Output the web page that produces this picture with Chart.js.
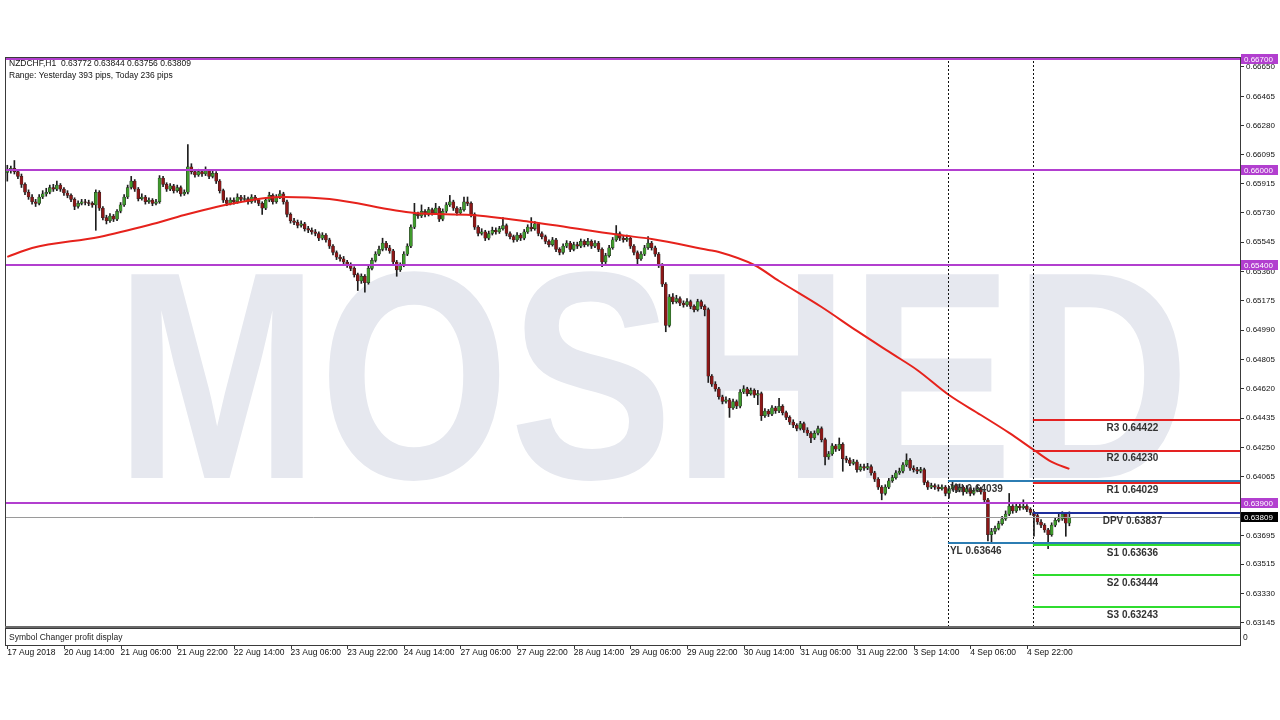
<!DOCTYPE html>
<html>
<head>
<meta charset="utf-8">
<script src="https://cdn.jsdelivr.net/npm/chart.js@4.4.1/dist/chart.umd.min.js"></script>
<style>
  html, body { margin: 0; background: #fff; }
  canvas { display: block; }
</style>
</head>
<body>
<canvas id="chart" width="1280" height="720"></canvas>
<script>
// NZDCHF H1 candles, 17 Aug 22:00 .. 5 Sep 10:00
const opens = [
  0.65985,0.65995,0.66010,0.65990,0.65960,0.65910,0.65860,0.65830,0.65800,0.65790,
  0.65830,0.65850,0.65860,0.65890,0.65880,0.65905,0.65880,0.65855,0.65840,0.65815,
  0.65770,0.65790,0.65800,0.65795,0.65790,0.65780,0.65860,0.65760,0.65700,0.65680,
  0.65710,0.65690,0.65740,0.65780,0.65830,0.65890,0.65930,0.65880,0.65820,0.65830,
  0.65800,0.65810,0.65790,0.65800,0.65950,0.65910,0.65880,0.65900,0.65870,0.65890,
  0.65850,0.65860,0.66020,0.65990,0.65970,0.65990,0.65975,0.65995,0.65960,0.65980,
  0.65930,0.65870,0.65810,0.65790,0.65810,0.65800,0.65830,0.65815,0.65820,0.65800,
  0.65830,0.65810,0.65790,0.65760,0.65810,0.65840,0.65800,0.65830,0.65850,0.65800,
  0.65720,0.65680,0.65670,0.65650,0.65660,0.65630,0.65620,0.65610,0.65600,0.65570,
  0.65590,0.65560,0.65520,0.65480,0.65450,0.65440,0.65420,0.65400,0.65380,0.65340,
  0.65300,0.65330,0.65290,0.65380,0.65430,0.65470,0.65500,0.65540,0.65510,0.65490,
  0.65420,0.65370,0.65400,0.65470,0.65520,0.65640,0.65720,0.65710,0.65740,0.65720,
  0.65750,0.65730,0.65760,0.65690,0.65740,0.65780,0.65800,0.65760,0.65730,0.65750,
  0.65800,0.65790,0.65720,0.65640,0.65600,0.65610,0.65570,0.65600,0.65620,0.65610,
  0.65630,0.65650,0.65600,0.65580,0.65560,0.65590,0.65570,0.65610,0.65640,0.65630,
  0.65660,0.65600,0.65580,0.65550,0.65530,0.65560,0.65500,0.65480,0.65520,0.65540,
  0.65500,0.65530,0.65520,0.65550,0.65530,0.65550,0.65520,0.65540,0.65500,0.65420,
  0.65460,0.65510,0.65560,0.65600,0.65570,0.65560,0.65570,0.65520,0.65480,0.65440,
  0.65470,0.65510,0.65540,0.65510,0.65470,0.65400,0.65280,0.65020,0.65200,0.65170,
  0.65190,0.65160,0.65150,0.65170,0.65140,0.65120,0.65170,0.65140,0.65120,0.64700,
  0.64650,0.64620,0.64570,0.64540,0.64550,0.64500,0.64540,0.64510,0.64600,0.64620,
  0.64590,0.64610,0.64580,0.64590,0.64450,0.64480,0.64460,0.64500,0.64480,0.64510,
  0.64470,0.64440,0.64410,0.64390,0.64370,0.64400,0.64360,0.64340,0.64310,0.64340,
  0.64370,0.64300,0.64190,0.64210,0.64260,0.64240,0.64270,0.64180,0.64170,0.64150,
  0.64160,0.64110,0.64130,0.64120,0.64130,0.64090,0.64050,0.64000,0.63960,0.64000,
  0.64040,0.64060,0.64090,0.64100,0.64140,0.64170,0.64120,0.64110,0.64100,0.64110,
  0.64030,0.64000,0.64010,0.64000,0.63990,0.64000,0.63960,0.63990,0.64010,0.63980,
  0.64000,0.63970,0.63990,0.63960,0.63980,0.63990,0.63970,0.63920,0.63700,0.63720,
  0.63740,0.63770,0.63800,0.63830,0.63880,0.63850,0.63880,0.63870,0.63880,0.63860,
  0.63840,0.63820,0.63780,0.63760,0.63730,0.63700,0.63760,0.63790,0.63800,0.63830,
  0.63772
];
const highs = [
  0.66030,0.66025,0.66060,0.66005,0.65975,0.65920,0.65875,0.65845,0.65815,0.65845,
  0.65870,0.65885,0.65905,0.65910,0.65930,0.65915,0.65890,0.65870,0.65850,0.65825,
  0.65805,0.65815,0.65815,0.65810,0.65800,0.65875,0.65870,0.65770,0.65715,0.65725,
  0.65720,0.65750,0.65795,0.65845,0.65905,0.65960,0.65940,0.65890,0.65850,0.65840,
  0.65825,0.65820,0.65815,0.65965,0.65960,0.65920,0.65915,0.65910,0.65905,0.65900,
  0.65875,0.66160,0.66040,0.66000,0.66005,0.66000,0.66020,0.66005,0.65995,0.65990,
  0.65940,0.65880,0.65825,0.65825,0.65825,0.65850,0.65840,0.65840,0.65830,0.65845,
  0.65840,0.65820,0.65800,0.65825,0.65860,0.65850,0.65845,0.65870,0.65860,0.65810,
  0.65730,0.65695,0.65685,0.65680,0.65670,0.65645,0.65635,0.65625,0.65610,0.65605,
  0.65600,0.65570,0.65530,0.65490,0.65465,0.65455,0.65430,0.65415,0.65390,0.65350,
  0.65345,0.65340,0.65395,0.65445,0.65485,0.65520,0.65570,0.65550,0.65525,0.65500,
  0.65430,0.65415,0.65485,0.65535,0.65655,0.65790,0.65735,0.65780,0.65750,0.65765,
  0.65760,0.65790,0.65770,0.65755,0.65795,0.65840,0.65810,0.65770,0.65765,0.65830,
  0.65830,0.65800,0.65730,0.65650,0.65630,0.65620,0.65615,0.65640,0.65635,0.65645,
  0.65700,0.65660,0.65610,0.65590,0.65605,0.65600,0.65625,0.65655,0.65700,0.65675,
  0.65670,0.65610,0.65590,0.65560,0.65575,0.65570,0.65510,0.65535,0.65555,0.65550,
  0.65545,0.65545,0.65565,0.65560,0.65570,0.65560,0.65555,0.65550,0.65510,0.65475,
  0.65525,0.65575,0.65650,0.65610,0.65585,0.65590,0.65580,0.65530,0.65490,0.65485,
  0.65525,0.65580,0.65550,0.65520,0.65480,0.65410,0.65290,0.65215,0.65220,0.65210,
  0.65200,0.65175,0.65190,0.65180,0.65150,0.65185,0.65180,0.65150,0.65130,0.64710,
  0.64665,0.64630,0.64580,0.64570,0.64560,0.64555,0.64550,0.64615,0.64640,0.64630,
  0.64625,0.64620,0.64610,0.64600,0.64495,0.64490,0.64515,0.64510,0.64560,0.64520,
  0.64480,0.64450,0.64425,0.64400,0.64415,0.64410,0.64375,0.64350,0.64355,0.64385,
  0.64380,0.64310,0.64225,0.64275,0.64270,0.64310,0.64280,0.64195,0.64185,0.64175,
  0.64170,0.64145,0.64145,0.64150,0.64140,0.64100,0.64060,0.64010,0.64015,0.64055,
  0.64075,0.64105,0.64120,0.64155,0.64210,0.64180,0.64135,0.64125,0.64125,0.64120,
  0.64040,0.64025,0.64020,0.64015,0.64015,0.64010,0.64005,0.64039,0.64020,0.64020,
  0.64010,0.64010,0.64000,0.63995,0.64010,0.64000,0.63980,0.63930,0.63740,0.63755,
  0.63785,0.63815,0.63850,0.63960,0.63890,0.63895,0.63900,0.63920,0.63890,0.63870,
  0.63848,0.63830,0.63795,0.63770,0.63740,0.63775,0.63805,0.63830,0.63845,0.63840,
  0.63844
];
const lows = [
  0.65930,0.65980,0.65975,0.65945,0.65890,0.65845,0.65815,0.65785,0.65770,0.65780,
  0.65820,0.65835,0.65850,0.65865,0.65870,0.65865,0.65840,0.65825,0.65800,0.65750,
  0.65760,0.65780,0.65780,0.65775,0.65765,0.65620,0.65745,0.65685,0.65660,0.65670,
  0.65675,0.65680,0.65730,0.65770,0.65820,0.65880,0.65865,0.65805,0.65810,0.65785,
  0.65790,0.65775,0.65780,0.65790,0.65895,0.65865,0.65870,0.65855,0.65860,0.65835,
  0.65840,0.65850,0.65975,0.65955,0.65960,0.65960,0.65965,0.65945,0.65950,0.65915,
  0.65855,0.65795,0.65775,0.65780,0.65785,0.65790,0.65800,0.65805,0.65785,0.65790,
  0.65795,0.65775,0.65720,0.65750,0.65800,0.65785,0.65790,0.65820,0.65785,0.65705,
  0.65665,0.65655,0.65635,0.65640,0.65615,0.65605,0.65595,0.65585,0.65555,0.65560,
  0.65545,0.65505,0.65465,0.65435,0.65425,0.65405,0.65385,0.65365,0.65325,0.65240,
  0.65285,0.65230,0.65280,0.65370,0.65420,0.65460,0.65490,0.65495,0.65475,0.65405,
  0.65330,0.65360,0.65390,0.65460,0.65510,0.65630,0.65695,0.65700,0.65705,0.65710,
  0.65715,0.65720,0.65675,0.65680,0.65730,0.65770,0.65745,0.65715,0.65720,0.65740,
  0.65775,0.65705,0.65625,0.65585,0.65590,0.65555,0.65560,0.65590,0.65595,0.65600,
  0.65620,0.65585,0.65565,0.65545,0.65550,0.65555,0.65560,0.65600,0.65615,0.65620,
  0.65585,0.65565,0.65535,0.65515,0.65520,0.65485,0.65465,0.65470,0.65510,0.65485,
  0.65490,0.65505,0.65510,0.65515,0.65520,0.65505,0.65510,0.65485,0.65390,0.65410,
  0.65450,0.65500,0.65550,0.65555,0.65545,0.65550,0.65505,0.65465,0.65400,0.65430,
  0.65460,0.65500,0.65495,0.65455,0.65385,0.65265,0.64980,0.65010,0.65155,0.65160,
  0.65145,0.65135,0.65140,0.65125,0.65105,0.65110,0.65125,0.65080,0.64660,0.64635,
  0.64605,0.64555,0.64525,0.64530,0.64440,0.64490,0.64495,0.64500,0.64590,0.64575,
  0.64580,0.64565,0.64520,0.64420,0.64440,0.64445,0.64450,0.64465,0.64470,0.64455,
  0.64425,0.64395,0.64375,0.64355,0.64360,0.64345,0.64325,0.64280,0.64300,0.64330,
  0.64285,0.64140,0.64175,0.64200,0.64225,0.64230,0.64100,0.64155,0.64135,0.64140,
  0.64095,0.64100,0.64105,0.64110,0.64075,0.64035,0.63985,0.63920,0.63950,0.63990,
  0.64030,0.64050,0.64080,0.64090,0.64130,0.64105,0.64095,0.64085,0.64090,0.64015,
  0.63985,0.63990,0.63985,0.63975,0.63980,0.63945,0.63930,0.63980,0.63965,0.63970,
  0.63950,0.63960,0.63945,0.63950,0.63970,0.63955,0.63905,0.63660,0.63646,0.63705,
  0.63730,0.63760,0.63790,0.63820,0.63835,0.63840,0.63855,0.63860,0.63845,0.63825,
  0.63690,0.63765,0.63745,0.63715,0.63612,0.63690,0.63750,0.63780,0.63790,0.63690,
  0.63756
];
const closes = [
  0.65995,0.66010,0.65990,0.65960,0.65910,0.65860,0.65830,0.65800,0.65790,0.65830,
  0.65850,0.65860,0.65890,0.65880,0.65905,0.65880,0.65855,0.65840,0.65815,0.65770,
  0.65790,0.65800,0.65795,0.65790,0.65780,0.65860,0.65760,0.65700,0.65680,0.65710,
  0.65690,0.65740,0.65780,0.65830,0.65890,0.65930,0.65880,0.65820,0.65830,0.65800,
  0.65810,0.65790,0.65800,0.65950,0.65910,0.65880,0.65900,0.65870,0.65890,0.65850,
  0.65860,0.66020,0.65990,0.65970,0.65990,0.65975,0.65995,0.65960,0.65980,0.65930,
  0.65870,0.65810,0.65790,0.65810,0.65800,0.65830,0.65815,0.65820,0.65800,0.65830,
  0.65810,0.65790,0.65760,0.65810,0.65840,0.65800,0.65830,0.65850,0.65800,0.65720,
  0.65680,0.65670,0.65650,0.65660,0.65630,0.65620,0.65610,0.65600,0.65570,0.65590,
  0.65560,0.65520,0.65480,0.65450,0.65440,0.65420,0.65400,0.65380,0.65340,0.65300,
  0.65330,0.65290,0.65380,0.65430,0.65470,0.65500,0.65540,0.65510,0.65490,0.65420,
  0.65370,0.65400,0.65470,0.65520,0.65640,0.65720,0.65710,0.65740,0.65720,0.65750,
  0.65730,0.65760,0.65690,0.65740,0.65780,0.65800,0.65760,0.65730,0.65750,0.65800,
  0.65790,0.65720,0.65640,0.65600,0.65610,0.65570,0.65600,0.65620,0.65610,0.65630,
  0.65650,0.65600,0.65580,0.65560,0.65590,0.65570,0.65610,0.65640,0.65630,0.65660,
  0.65600,0.65580,0.65550,0.65530,0.65560,0.65500,0.65480,0.65520,0.65540,0.65500,
  0.65530,0.65520,0.65550,0.65530,0.65550,0.65520,0.65540,0.65500,0.65420,0.65460,
  0.65510,0.65560,0.65600,0.65570,0.65560,0.65570,0.65520,0.65480,0.65440,0.65470,
  0.65510,0.65540,0.65510,0.65470,0.65400,0.65280,0.65020,0.65200,0.65170,0.65190,
  0.65160,0.65150,0.65170,0.65140,0.65120,0.65170,0.65140,0.65120,0.64700,0.64650,
  0.64620,0.64570,0.64540,0.64550,0.64500,0.64540,0.64510,0.64600,0.64620,0.64590,
  0.64610,0.64580,0.64590,0.64450,0.64480,0.64460,0.64500,0.64480,0.64510,0.64470,
  0.64440,0.64410,0.64390,0.64370,0.64400,0.64360,0.64340,0.64310,0.64340,0.64370,
  0.64300,0.64190,0.64210,0.64260,0.64240,0.64270,0.64180,0.64170,0.64150,0.64160,
  0.64110,0.64130,0.64120,0.64130,0.64090,0.64050,0.64000,0.63960,0.64000,0.64040,
  0.64060,0.64090,0.64100,0.64140,0.64170,0.64120,0.64110,0.64100,0.64110,0.64030,
  0.64000,0.64010,0.64000,0.63990,0.64000,0.63960,0.63990,0.64010,0.63980,0.64000,
  0.63970,0.63990,0.63960,0.63980,0.63990,0.63970,0.63920,0.63700,0.63720,0.63740,
  0.63770,0.63800,0.63830,0.63880,0.63850,0.63880,0.63870,0.63880,0.63860,0.63840,
  0.63820,0.63780,0.63760,0.63730,0.63700,0.63760,0.63790,0.63800,0.63830,0.63772,
  0.63809
];

// moving average (red), sampled at bar indices
const maIdx = [0, 7, 26, 40, 50, 59, 66, 73, 78, 91, 115, 131, 148, 173, 182, 198, 201, 211, 218, 230, 240, 250, 257, 266, 275, 283, 290, 295, 300];
const maVals = [0.65452, 0.65508, 0.65578, 0.65653, 0.65716, 0.65767, 0.65798, 0.65823, 0.65830, 0.65817, 0.65729, 0.65716, 0.65672, 0.65590, 0.65565, 0.65496, 0.65483, 0.65401, 0.65300, 0.65136, 0.64985, 0.64840, 0.64739, 0.64581, 0.64455, 0.64342, 0.64234, 0.64159, 0.64115];

const xTickIdx = [0, 16, 32, 48, 64, 80, 96, 112, 128, 144, 160, 176, 192, 208, 224, 240, 256, 272, 288];
const xTickText = ['17 Aug 2018', '20 Aug 14:00', '21 Aug 06:00', '21 Aug 22:00', '22 Aug 14:00', '23 Aug 06:00', '23 Aug 22:00', '24 Aug 14:00', '27 Aug 06:00', '27 Aug 22:00', '28 Aug 14:00', '29 Aug 06:00', '29 Aug 22:00', '30 Aug 14:00', '31 Aug 06:00', '31 Aug 22:00', '3 Sep 14:00', '4 Sep 06:00', '4 Sep 22:00'];
const yTicks = [0.66650, 0.66465, 0.66280, 0.66095, 0.65915, 0.65730, 0.65545, 0.65360, 0.65175, 0.64990, 0.64805, 0.64620, 0.64435, 0.64250, 0.64065, 0.63880, 0.63695, 0.63515, 0.63330, 0.63145];

const levelLines = [0.66700, 0.66000, 0.65400, 0.63900];
const pivotNames = ['R3', 'R2', 'R1', 'DPV', 'S1', 'S2', 'S3'];
const pivotVals = [0.64422, 0.64230, 0.64029, 0.63837, 0.63636, 0.63444, 0.63243];
const yestHigh = 0.64039;
const yestLow = 0.63646;
const daySeps = [266, 290];
const rangeText = 'Range: Yesterday 393 pips, Today 236 pips';

const BULL = '#3f9a2c';
const BEAR = '#8c1717';
const PURPLE = '#b23fcf';
const FONT = '"Liberation Sans", Arial, sans-serif';
const pivotColor = n => n[0] === 'R' ? '#e42222' : n[0] === 'S' ? '#2fdc2f' : '#1f2e9c';

const overlay = {
  id: 'overlay',
  beforeDatasetsDraw(chart) {
    const { ctx, chartArea: a } = chart;
    ctx.save();
    ctx.beginPath();
    ctx.rect(a.left, a.top, a.right - a.left, a.bottom - a.top);
    ctx.clip();
    ctx.font = 'bold 296px ' + FONT;
    const w = ctx.measureText('MOSHED').width;
    ctx.translate(115, 478);
    ctx.scale(1075 / w, 1);
    ctx.fillStyle = '#e6e8ef';
    ctx.textBaseline = 'alphabetic';
    ctx.fillText('MOSHED', 0, 0);
    ctx.restore();
  },
  afterDatasetsDraw(chart) {
    const { ctx, chartArea: a, scales: { x, y } } = chart;
    ctx.save();
    ctx.beginPath();
    ctx.rect(a.left, a.top, a.right - a.left, a.bottom - a.top);
    ctx.clip();

    // day separators
    ctx.strokeStyle = '#111';
    ctx.lineWidth = 1;
    ctx.setLineDash([2, 2]);
    daySeps.forEach(i => {
      const px = Math.round(x.getPixelForValue(i - 0.3)) + 0.5;
      ctx.beginPath(); ctx.moveTo(px, a.top); ctx.lineTo(px, a.bottom); ctx.stroke();
    });
    ctx.setLineDash([]);

    // current price
    const lp = Math.round(y.getPixelForValue(closes[closes.length - 1])) + 0.5;
    ctx.strokeStyle = '#9a9a9a';
    ctx.beginPath(); ctx.moveTo(a.left, lp); ctx.lineTo(a.right, lp); ctx.stroke();

    // horizontal levels
    ctx.strokeStyle = PURPLE;
    ctx.lineWidth = 2;
    levelLines.forEach(v => {
      const py = Math.round(y.getPixelForValue(v));
      ctx.beginPath(); ctx.moveTo(a.left, py); ctx.lineTo(a.right, py); ctx.stroke();
    });

    // yesterday high / low
    const x0 = x.getPixelForValue(daySeps[0] - 0.3);
    const x1 = x.getPixelForValue(daySeps[1] - 0.3);
    ctx.strokeStyle = '#2c7db3';
    [yestHigh, yestLow].forEach(v => {
      const py = Math.round(y.getPixelForValue(v));
      ctx.beginPath(); ctx.moveTo(x0, py); ctx.lineTo(a.right, py); ctx.stroke();
    });

    // pivots
    pivotVals.forEach((v, k) => {
      const py = Math.round(y.getPixelForValue(v));
      ctx.strokeStyle = pivotColor(pivotNames[k]);
      ctx.beginPath(); ctx.moveTo(x1, py); ctx.lineTo(a.right, py); ctx.stroke();
    });

    ctx.fillStyle = '#333';
    ctx.font = 'bold 10px ' + FONT;
    ctx.textBaseline = 'middle';
    ctx.textAlign = 'center';
    const cx = (x1 + a.right) / 2 - 4;
    pivotVals.forEach((v, k) => {
      ctx.fillText(pivotNames[k] + ' ' + v.toFixed(5), cx, y.getPixelForValue(v) + 8);
    });
    ctx.textAlign = 'left';
    ctx.fillText('YH ' + yestHigh.toFixed(5), x0 + 2, y.getPixelForValue(yestHigh) + 8);
    ctx.fillText('YL ' + yestLow.toFixed(5), x0 + 2, y.getPixelForValue(yestLow) + 8);
    ctx.restore();
  },
  afterDraw(chart) {
    const { ctx, chartArea: a, scales: { x, y } } = chart;
    ctx.save();
    // frame
    ctx.strokeStyle = '#3a3a3a';
    ctx.lineWidth = 1;
    ctx.strokeRect(a.left + 0.5, a.top + 0.5, a.right - a.left, a.bottom - a.top);
    ctx.fillStyle = '#6a6a6a';
    ctx.fillRect(a.left, a.bottom, a.right - a.left, 2);
    // indicator sub-window
    const subTop = a.bottom + 2, subBot = a.bottom + 19;
    ctx.strokeRect(a.left + 0.5, subTop + 0.5, a.right - a.left, subBot - subTop);
    ctx.beginPath(); ctx.moveTo(a.right + 0.5, a.top); ctx.lineTo(a.right + 0.5, subBot + 1); ctx.stroke();
    ctx.fillStyle = '#222';
    ctx.font = '8.5px ' + FONT;
    ctx.textBaseline = 'middle';
    ctx.fillText('Symbol Changer profit display', a.left + 4, (subTop + subBot) / 2 + 1);
    ctx.fillText('0', a.right + 3, (subTop + subBot) / 2 + 1);
    // x tick marks under the sub-window
    xTickIdx.forEach(i => {
      const px = Math.round(x.getPixelForValue(i)) + 0.5;
      ctx.beginPath(); ctx.moveTo(px, subBot); ctx.lineTo(px, subBot + 4); ctx.stroke();
    });

    // header
    const n = closes.length - 1;
    ctx.fillStyle = '#111';
    ctx.fillText('NZDCHF,H1  ' + [opens[n], highs[n], lows[n], closes[n]].map(v => v.toFixed(5)).join(' '), a.left + 4, a.top + 7);
    ctx.fillText(rangeText, a.left + 4, a.top + 19);

    // price boxes on the axis
    ctx.font = '8px ' + FONT;
    const box = (v, bg) => {
      const py = Math.round(y.getPixelForValue(v));
      ctx.fillStyle = bg;
      ctx.fillRect(a.right + 1, py - 5, 37, 10);
      ctx.fillStyle = '#fff';
      ctx.fillText(v.toFixed(5), a.right + 4, py + 0.5);
    };
    levelLines.forEach(v => box(v, PURPLE));
    box(closes[n], '#000');
    ctx.restore();
  }
};

new Chart(document.getElementById('chart'), {
  type: 'bar',
  data: {
    datasets: [
      {
        type: 'line',
        data: maIdx.map((i, k) => ({ x: i, y: maVals[k] })),
        borderColor: '#e6221c',
        borderWidth: 2,
        pointRadius: 0,
        cubicInterpolationMode: 'monotone',
        order: 0
      },
      {
        data: closes.map((c, i) => ({ x: i, y: [opens[i], c] })),
        backgroundColor: closes.map((c, i) => c >= opens[i] ? BULL : BEAR),
        borderColor: '#262626',
        borderWidth: 0.5,
        borderSkipped: false,
        barThickness: 3,
        grouped: false,
        order: 1
      },
      {
        data: closes.map((c, i) => ({ x: i, y: [lows[i], highs[i]] })),
        backgroundColor: '#1d1d1d',
        barThickness: 1,
        grouped: false,
        order: 2
      }
    ]
  },
  options: {
    responsive: false,
    animation: false,
    events: [],
    layout: { padding: { left: 5, top: 57, right: 0, bottom: 0 } },
    plugins: { legend: { display: false }, tooltip: { enabled: false } },
    scales: {
      x: {
        type: 'linear',
        min: -0.65,
        max: 348.2,
        bounds: 'data',
        offset: false,
        afterBuildTicks: s => { s.ticks = xTickIdx.map(v => ({ value: v })); },
        afterFit: s => { s.height = 94; s.paddingLeft = 0; s.paddingRight = 0; },
        grid: { display: false, drawTicks: false },
        border: { display: false },
        ticks: {
          autoSkip: false,
          maxRotation: 0,
          align: 'start',
          padding: 22,
          color: '#111',
          font: { family: FONT, size: 8.5 },
          callback: v => xTickText[xTickIdx.indexOf(v)]
        }
      },
      y: {
        position: 'right',
        min: 0.63124,
        max: 0.66713,
        afterBuildTicks: s => { s.ticks = yTicks.map(v => ({ value: v })); },
        afterFit: s => { s.width = 40; s.paddingTop = 0; s.paddingBottom = 0; },
        grid: { drawOnChartArea: false, drawTicks: true, tickLength: 4, color: '#333' },
        border: { display: false },
        ticks: {
          padding: 2,
          color: '#111',
          font: { family: FONT, size: 8 },
          callback: v => v.toFixed(5)
        }
      }
    }
  },
  plugins: [overlay]
});
</script>
</body>
</html>
